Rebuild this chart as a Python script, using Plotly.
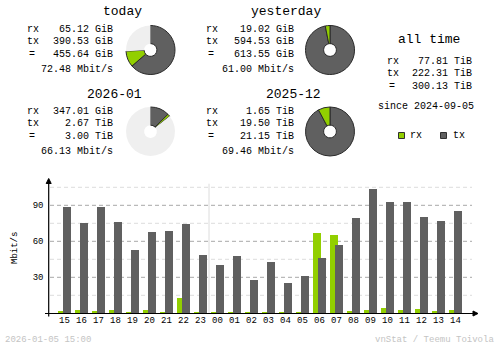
import plotly.graph_objects as go

# ---- hourly traffic (Mbit/s), last 24 hours ----
hours = ["15", "16", "17", "18", "19", "20", "21", "22", "23", "00", "01", "02",
         "03", "04", "05", "06", "07", "08", "09", "10", "11", "12", "13", "14"]
rx_rate = [1.9, 2.8, 1.9, 2.8, 1.1, 2.8, 1.1, 12.8, 1.1, 1.1, 1.1, 1.1,
           1.1, 1.1, 0.3, 66.9, 65.3, 1.9, 2.8, 4.4, 2.8, 3.6, 1.9, 2.8]
tx_rate = [88.6, 75.3, 88.6, 76.1, 52.8, 67.8, 68.6, 74.4, 48.6, 40.3, 47.8, 27.8,
           42.8, 25.3, 31.1, 46.1, 56.9, 79.4, 103.6, 92.8, 92.8, 80.3, 76.9, 85.3]
y_ticks = [30, 60, 90]

# ---- summary figures ----
today = {"rx": 65.12, "tx": 390.53, "total": 455.64, "unit": "GiB", "rate": "72.48 Mbit/s"}
yesterday = {"rx": 19.02, "tx": 594.53, "total": 613.55, "unit": "GiB", "rate": "61.00 Mbit/s"}
month_cur = {"rx": 347.01, "rx_unit": "GiB", "tx": 2.67, "total": 3.00, "unit": "TiB", "rate": "66.13 Mbit/s"}
month_prev = {"rx": 1.65, "rx_unit": "TiB", "tx": 19.50, "total": 21.15, "unit": "TiB", "rate": "69.46 Mbit/s"}
all_time = {"rx": 77.81, "tx": 222.31, "total": 300.13, "unit": "TiB", "since": "2024-09-05"}
stamp = "2026-01-05 15:00"
credit = "vnStat / Teemu Toivola"

RX_COL = "#92CF00"
TX_COL = "#606060"
PIE_BG = "#EFEFEF"
FONT = "Liberation Mono"

W, H = 500, 348


def px(x):
    return x / W


def py(y):
    return 1 - y / H


fig = go.Figure()

# ---- hourly bars ----
idx = list(range(len(hours)))
bar_w = 8 / 17
fig.add_trace(go.Bar(x=idx, y=rx_rate, marker=dict(color=RX_COL, line=dict(width=0)),
                     width=bar_w, offset=-6.5 / 17, name="rx", showlegend=False))
fig.add_trace(go.Bar(x=idx, y=tx_rate, marker=dict(color=TX_COL, line=dict(width=0)),
                     width=bar_w, offset=-1.5 / 17, name="tx", showlegend=False))

x0_px, x1_px = 48.5, 477.0
step = 17.0
c0 = 64.5
y0_px, ytop_px = 313.3, 181.0
unit_px = 1.2

fig.update_layout(
    xaxis=dict(domain=[px(x0_px), px(x1_px)],
               range=[(x0_px - c0) / step, (x1_px - c0) / step],
               tickvals=idx, ticktext=hours, showgrid=False, zeroline=False,
               showline=False, ticks="", tickfont=dict(family=FONT, size=9, color="black"),
               fixedrange=True),
    yaxis=dict(domain=[py(y0_px), py(ytop_px)],
               range=[0, (y0_px - ytop_px) / unit_px],
               tickvals=y_ticks, showgrid=False, zeroline=False, showline=False,
               ticks="", tickfont=dict(family=FONT, size=9, color="black"),
               ticklabelstandoff=4, fixedrange=True),
    barmode="overlay",
)

shapes = []
# horizontal grid
for v in range(15, 106, 15):
    major = v % 30 == 0
    shapes.append(dict(type="line", xref="paper", yref="y", x0=px(50), x1=px(472),
                       y0=v, y1=v, layer="below",
                       line=dict(color="#A8A8A8" if major else "#DCDCDC", width=1, dash="4px,3px")))
# day separator between 23 and 00
shapes.append(dict(type="line", xref="x", yref="y", x0=8.5, x1=8.5, y0=0, y1=108,
                   layer="below", line=dict(color="#DCDCDC", width=1)))
# axes
shapes.append(dict(type="line", xref="paper", yref="paper", x0=px(48.7), x1=px(48.7),
                   y0=py(316.5), y1=py(180), line=dict(color="black", width=1.2)))
shapes.append(dict(type="line", xref="paper", yref="paper", x0=px(45), x1=px(476),
                   y0=py(313.5), y1=py(313.5), line=dict(color="black", width=1.2)))
# arrow heads


def tri(pts):
    s = "M " + " L ".join(f"{px(a)},{py(b)}" for a, b in pts) + " Z"
    return dict(type="path", xref="paper", yref="paper", path=s,
                fillcolor="black", line=dict(color="black", width=1))


shapes.append(tri([(46.2, 183.5), (51.2, 183.5), (48.7, 178.5)]))
shapes.append(tri([(473, 311), (473, 316), (478, 313.5)]))

# legend squares
for x, col in [(398.5, RX_COL), (440.5, TX_COL)]:
    shapes.append(dict(type="rect", xref="paper", yref="paper",
                       x0=px(x), x1=px(x + 6), y0=py(132.5), y1=py(138.5),
                       fillcolor=col, line=dict(color="#303030", width=1)))

fig.update_layout(shapes=shapes)

# ---- donut charts ----


def donut(cx, cy, r, tx, rx, full):
    rest = max(full - tx - rx, 0)
    fig.add_trace(go.Pie(
        values=[tx, rx, rest], labels=["tx", "rx", "rest"],
        marker=dict(colors=[TX_COL, RX_COL, PIE_BG],
                    line=dict(color=["#2a2a2a", "#2a2a2a", PIE_BG], width=[1, 1, 0])),
        hole=0.26, sort=False, direction="clockwise", rotation=0,
        textinfo="none", hoverinfo="skip", showlegend=False,
        domain=dict(x=[px(cx - r), px(cx + r)], y=[py(cy + r), py(cy - r)]),
    ))


day_full = max(today["total"], yesterday["total"])
donut(150.5, 50, 24.5, today["tx"], today["rx"], day_full)
donut(330, 50, 24.5, yesterday["tx"], yesterday["rx"], day_full)

cur_rx_tib = month_cur["rx"] / 1024
month_full = max(month_cur["total"], month_prev["total"])
donut(150.5, 131.5, 24.5, month_cur["tx"], cur_rx_tib, month_full)
donut(330, 131.5, 24.5, month_prev["tx"], month_prev["rx"], month_full)

# ---- text blocks ----
ann = []


def text(x, y, s, anchor="left", size=10, color="black", angle=0):
    ann.append(dict(x=px(x), y=py(y), xref="paper", yref="paper", text=s,
                    showarrow=False, xanchor=anchor, yanchor="middle", textangle=angle,
                    font=dict(family=FONT, size=size, color=color)))


def block(title, tcx, ty, lx, rx_x, ry, d, rx_unit=None):
    text(tcx, ty, title, "center", 13)
    text(lx, ry, "rx")
    text(rx_x, ry, f"{d['rx']:.2f} {rx_unit or d['unit']}", "right")
    text(lx, ry + 12.3, "tx")
    text(rx_x, ry + 12.3, f"{d['tx']:.2f} {d['unit']}", "right")
    text(lx + 12, ry + 24.6, "=", "right")
    text(rx_x, ry + 24.6, f"{d['total']:.2f} {d['unit']}", "right")
    if "rate" in d:
        text(rx_x, ry + 39.5, d["rate"], "right")


block("today", 122, 11, 25, 115, 29.5, today)
block("yesterday", 286, 11, 204, 295.5, 29.5, yesterday)
block("2026-01", 114, 94, 25, 115, 111.5, month_cur, month_cur["rx_unit"])
block("2025-12", 293, 94, 204, 295.5, 111.5, month_prev, month_prev["rx_unit"])
block("all time", 429, 40, 385, 473.5, 61.5, all_time)
text(426, 106.5, "since " + all_time["since"], "center")
text(408, 135.5, "rx")
text(450.5, 135.5, "tx")

text(15, 248, "Mbit/s", "center", 9, angle=-90)
text(3, 340, stamp, "left", 9, "#C4C4C4")
text(496, 340, credit, "right", 9, "#C4C4C4")

fig.update_layout(annotations=ann, width=W, height=H, autosize=False,
                  margin=dict(l=0, r=0, t=0, b=0),
                  paper_bgcolor="white", plot_bgcolor="white")

fig.write_html("out.html", config={"displayModeBar": False})
